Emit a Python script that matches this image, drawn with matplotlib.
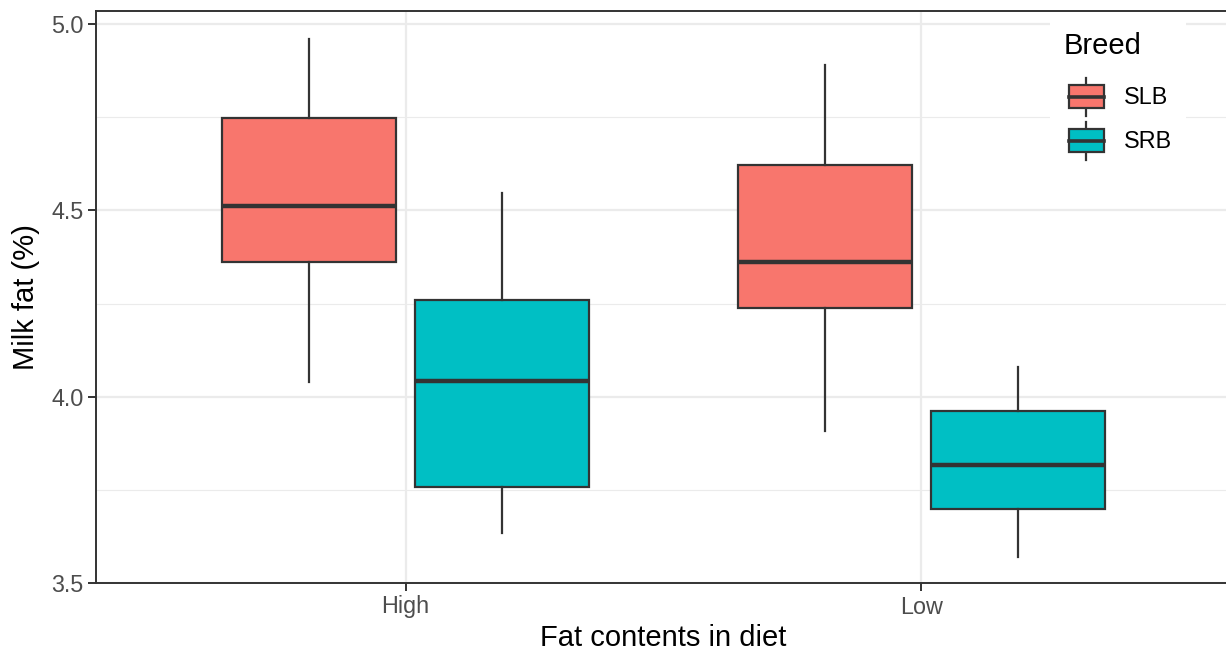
import matplotlib
matplotlib.use("Agg")
import matplotlib.pyplot as plt
from matplotlib.legend_handler import HandlerBase
from matplotlib.patches import Rectangle, Patch
from matplotlib.lines import Line2D

plt.rcParams['font.family'] = ['Liberation Sans', 'DejaVu Sans']

diets = ["High", "Low"]
breeds = ["SLB", "SRB"]
colors = {"SLB": "#F8766D", "SRB": "#00BFC4"}

# five-number summaries: [whislo, q1, med, q3, whishi]
slb_stats = [[4.04, 4.361, 4.512, 4.747, 4.96],
             [3.908, 4.238, 4.361, 4.622, 4.89]]
srb_stats = [[3.634, 3.758, 4.042, 4.259, 4.547],
             [3.570, 3.699, 3.817, 3.962, 4.080]]

edge = "#333333"

fig = plt.figure(figsize=(12.26, 6.5), dpi=100)
ax = fig.add_axes([96 / 1226, 67 / 650, 1135 / 1226, 572 / 650])

def draw(stats, offset, color):
    bxp = []
    for s in stats:
        bxp.append({"whislo": s[0], "q1": s[1], "med": s[2], "q3": s[3],
                    "whishi": s[4], "fliers": []})
    pos = [i + 1 + offset for i in range(len(stats))]
    ax.bxp(bxp, positions=pos, widths=0.3375, patch_artist=True,
           showcaps=False, manage_ticks=False,
           boxprops=dict(facecolor=color, edgecolor=edge, linewidth=1.6),
           medianprops=dict(color=edge, linewidth=3.2, solid_capstyle="butt"),
           whiskerprops=dict(color=edge, linewidth=1.6), zorder=3)

draw(slb_stats, -0.1875, colors["SLB"])
draw(srb_stats, 0.1875, colors["SRB"])

ax.set_xlim(0.4, 2.6)
ax.set_ylim(3.5, 5.035)
ax.set_xticks([1, 2])
ax.set_xticklabels(diets)
ax.set_yticks([3.5, 4.0, 4.5, 5.0])
ax.set_yticklabels(["3.5", "4.0", "4.5", "5.0"])
ax.set_yticks([3.75, 4.25, 4.75], minor=True)
ax.set_xticks([], minor=True)
ax.grid(True, which="major", color="#EBEBEB", linewidth=1.6)
ax.grid(True, which="minor", axis="y", color="#EBEBEB", linewidth=0.8)
ax.set_axisbelow(True)
for sp in ax.spines.values():
    sp.set_color(edge)
    sp.set_linewidth(1.4)
ax.tick_params(which="major", length=5.5, width=1.4, color=edge,
               labelsize=16.8, labelcolor="#4D4D4D", pad=3.5)
ax.tick_params(which="minor", length=0)
ax.set_xlabel("Fat contents in diet", fontsize=21, labelpad=4)
ax.set_ylabel("Milk fat (%)", fontsize=21, labelpad=8)


class BoxHandler(HandlerBase):
    def create_artists(self, legend, orig_handle, xdescent, ydescent,
                       width, height, fontsize, trans):
        x0 = -xdescent + 3.6
        w = width - 3.6
        cx = x0 + w / 2
        cy = -ydescent + height / 2
        fc = orig_handle.get_facecolor()
        wl = Line2D([cx, cx], [cy - 13.7, cy + 13.7], color=edge,
                    linewidth=1.6, transform=trans)
        box = Rectangle((x0, cy - 8.3), w, 16.6,
                        facecolor=fc, edgecolor=edge, linewidth=1.6,
                        transform=trans)
        med = Line2D([x0, x0 + w], [cy, cy],
                     color=edge, linewidth=2.6, transform=trans)
        return [wl, box, med]


handles = [Patch(facecolor=colors[b]) for b in breeds]
leg = ax.legend(handles, breeds, title="Breed", loc="upper left",
                bbox_to_anchor=(1038 / 1226, 644 / 650),
                bbox_transform=fig.transFigure,
                handler_map={Patch: BoxHandler()},
                fontsize=16.8, title_fontsize=21, frameon=True,
                fancybox=False, framealpha=1, edgecolor="white",
                handlelength=1.714, handleheight=2.53, labelspacing=0.0,
                handletextpad=0.86, borderpad=0.6, alignment="left")
leg.get_frame().set_linewidth(0)
leg._legend_box.sep = 10.8

fig.savefig("out.png", dpi=100)
